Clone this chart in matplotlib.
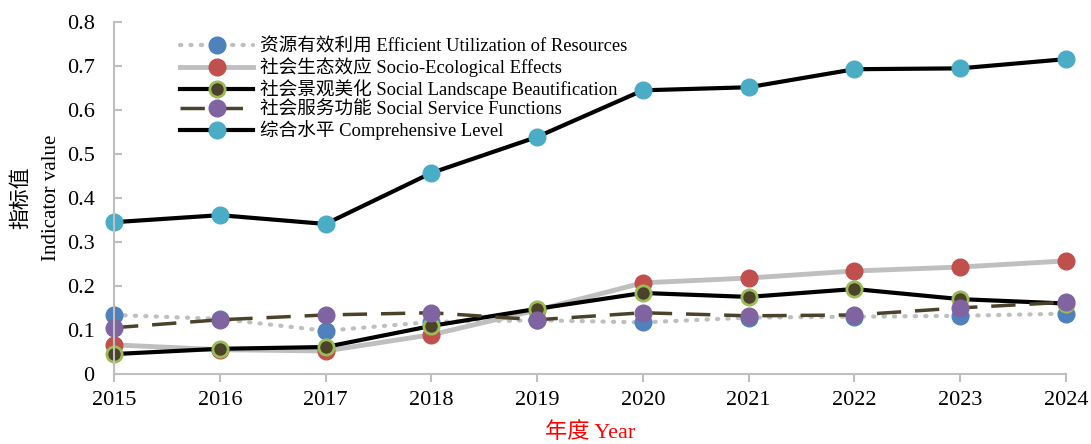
import numpy as np
import matplotlib.pyplot as plt
from matplotlib.ticker import FuncFormatter

plt.rcParams['font.family'] = ['Liberation Serif', 'Noto Sans CJK SC']

years = [2015, 2016, 2017, 2018, 2019, 2020, 2021, 2022, 2023, 2024]
resources = [0.134, 0.125, 0.098, 0.118, 0.122, 0.117, 0.128, 0.130, 0.132, 0.137]
ecological = [0.066, 0.055, 0.052, 0.089, 0.145, 0.207, 0.218, 0.234, 0.243, 0.257]
landscape = [0.045, 0.057, 0.061, 0.109, 0.148, 0.184, 0.175, 0.193, 0.170, 0.160]
service = [0.105, 0.123, 0.134, 0.139, 0.123, 0.139, 0.132, 0.134, 0.150, 0.163]
comprehensive = [0.345, 0.361, 0.341, 0.457, 0.539, 0.645, 0.652, 0.693, 0.695, 0.716]

labels = ['资源有效利用 Efficient Utilization of Resources',
          '社会生态效应 Socio-Ecological Effects',
          '社会景观美化 Social Landscape Beautification',
          '社会服务功能 Social Service Functions',
          '综合水平 Comprehensive Level']

fig = plt.figure(figsize=(10.91, 4.44), dpi=100)
ax = fig.add_axes([0.1045, 0.158, 0.8725, 0.792])

ax.plot(years, resources, color='#BFBFBF', lw=3, ls=(0, (0.3, 2.2)), dash_capstyle='round',
        marker='o', ms=12, mfc='#4F81BD', mec='#4F81BD', label=labels[0])
ax.plot(years, ecological, color='#BFBFBF', lw=3.5,
        marker='o', ms=12, mfc='#C0504D', mec='#C0504D', label=labels[1])
ax.plot(years, landscape, color='black', lw=3,
        marker='o', ms=11, mfc='#4A4229', mec='#9BBB59', mew=2, label=labels[2])
ax.plot(years, service, color='#4A4229', lw=2.5, ls=(0, (7, 4)),
        marker='o', ms=12, mfc='#8064A2', mec='#8064A2', label=labels[3])
ax.plot(years, comprehensive, color='black', lw=3,
        marker='o', ms=12, mfc='#4BACC6', mec='#4BACC6', label=labels[4])

ax.set_xlim(2015, 2024)
ax.set_ylim(0, 0.8)
ax.set_xticks(years)
ax.set_yticks(np.arange(0, 0.81, 0.1))
ax.yaxis.set_major_formatter(FuncFormatter(lambda v, p: '0' if v == 0 else f'{v:.1f}'))
ax.tick_params(axis='both', labelsize=16, color='#BFBFBF', width=1.5)
ax.tick_params(axis='y', direction='in', length=6, pad=14)
ax.tick_params(axis='x', direction='out', length=6, pad=6)
for side in ['top', 'right']:
    ax.spines[side].set_visible(False)
for side in ['left', 'bottom']:
    ax.spines[side].set_color('#BFBFBF')
    ax.spines[side].set_linewidth(1.5)
for a in ax.lines:
    a.set_clip_on(False)

ax.set_ylabel('指标值\nIndicator value', fontsize=15, labelpad=4, linespacing=1.8)
ax.set_xlabel('年度 Year', fontsize=16, color='red', labelpad=9)

ax.legend(loc='upper left', bbox_to_anchor=(0.058, 0.985), frameon=False, fontsize=13.4,
          handlelength=3.9, handletextpad=0.4, labelspacing=0.1, borderaxespad=0.2)

fig.savefig('out.png', dpi=100)
